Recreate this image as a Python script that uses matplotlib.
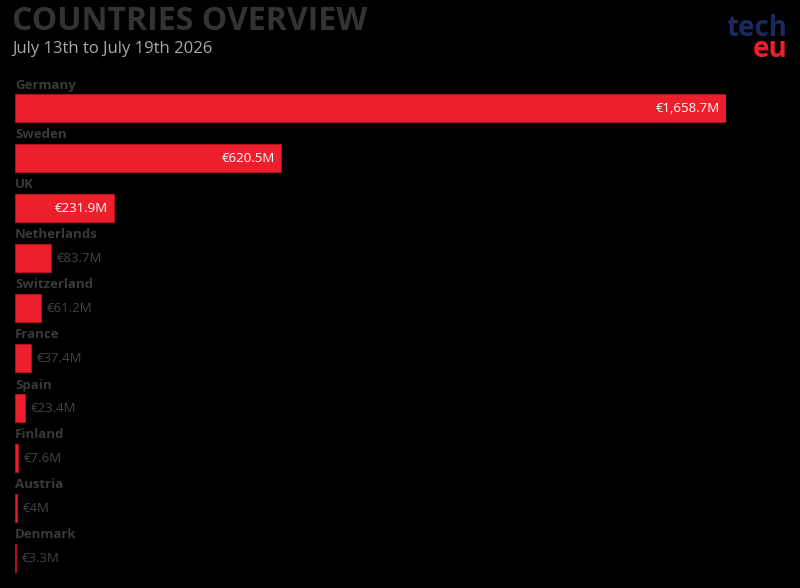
import matplotlib
matplotlib.use("Agg")
import matplotlib.pyplot as plt

countries = ["Germany", "Sweden", "UK", "Netherlands", "Switzerland", "France",
             "Spain", "Finland", "Austria", "Denmark"]
values = [1658.7, 620.5, 231.9, 83.7, 61.2, 37.4, 23.4, 7.6, 4.0, 3.3]
value_labels = ["€1,658.7M", "€620.5M", "€231.9M", "€83.7M", "€61.2M", "€37.4M",
                "€23.4M", "€7.6M", "€4M", "€3.3M"]

W, H = 800, 588
fig = plt.figure(figsize=(W / 100, H / 100), dpi=100, facecolor="black")
plt.rcParams['font.family'] = ['Open Sans', 'DejaVu Sans']

ax_left = 15 / W
ax_w = (726 - 15) / W
ax_top = 83
ax_bot = 583
ax = fig.add_axes([ax_left, 1 - ax_bot / H, ax_w, (ax_bot - ax_top) / H])
ax.set_facecolor("black")
ax.set_xlim(0, max(values))
ax.set_ylim(len(countries) - 0.5, -0.5)
for s in ax.spines.values():
    s.set_visible(False)
ax.set_xticks([])
ax.set_yticks([])

red = "#EE1F2D"
ax.barh(range(len(countries)), values, height=0.56, color=red,
        edgecolor="#B0121C", linewidth=0.8, align="center")

for i, (c, v, lab) in enumerate(zip(countries, values, value_labels)):
    ax.text(0, i - 0.46, c, ha="left", va="center", fontsize=9.5,
            fontweight="bold", color="#3a3a3a", clip_on=False)
    if v > 150:
        ax.annotate(lab, (v, i), xytext=(-4.5, 0), textcoords="offset points",
                    ha="right", va="center", fontsize=9.5, color="white")
    else:
        ax.annotate(lab, (v, i), xytext=(4, 0), textcoords="offset points",
                    ha="left", va="center", fontsize=9.5, color="#444444")

fig.text(12 / W, 1 - 22 / H, "COUNTRIES OVERVIEW", ha="left", va="center",
         fontsize=23, fontweight="bold", color="#333333")
fig.text(12 / W, 1 - 49 / H, "July 13th to July 19th 2026", ha="left",
         va="center", fontsize=12, color="#aaaaaa")

fig.text(787 / W, 1 - 36 / H, "tech", ha="right", va="baseline", fontsize=20,
         fontweight="bold", color="#1B2A5C")
fig.text(787 / W, 1 - 57 / H, "eu", ha="right", va="baseline", fontsize=20,
         fontweight="bold", color=red)

fig.savefig("out.png", dpi=100, facecolor="black")
